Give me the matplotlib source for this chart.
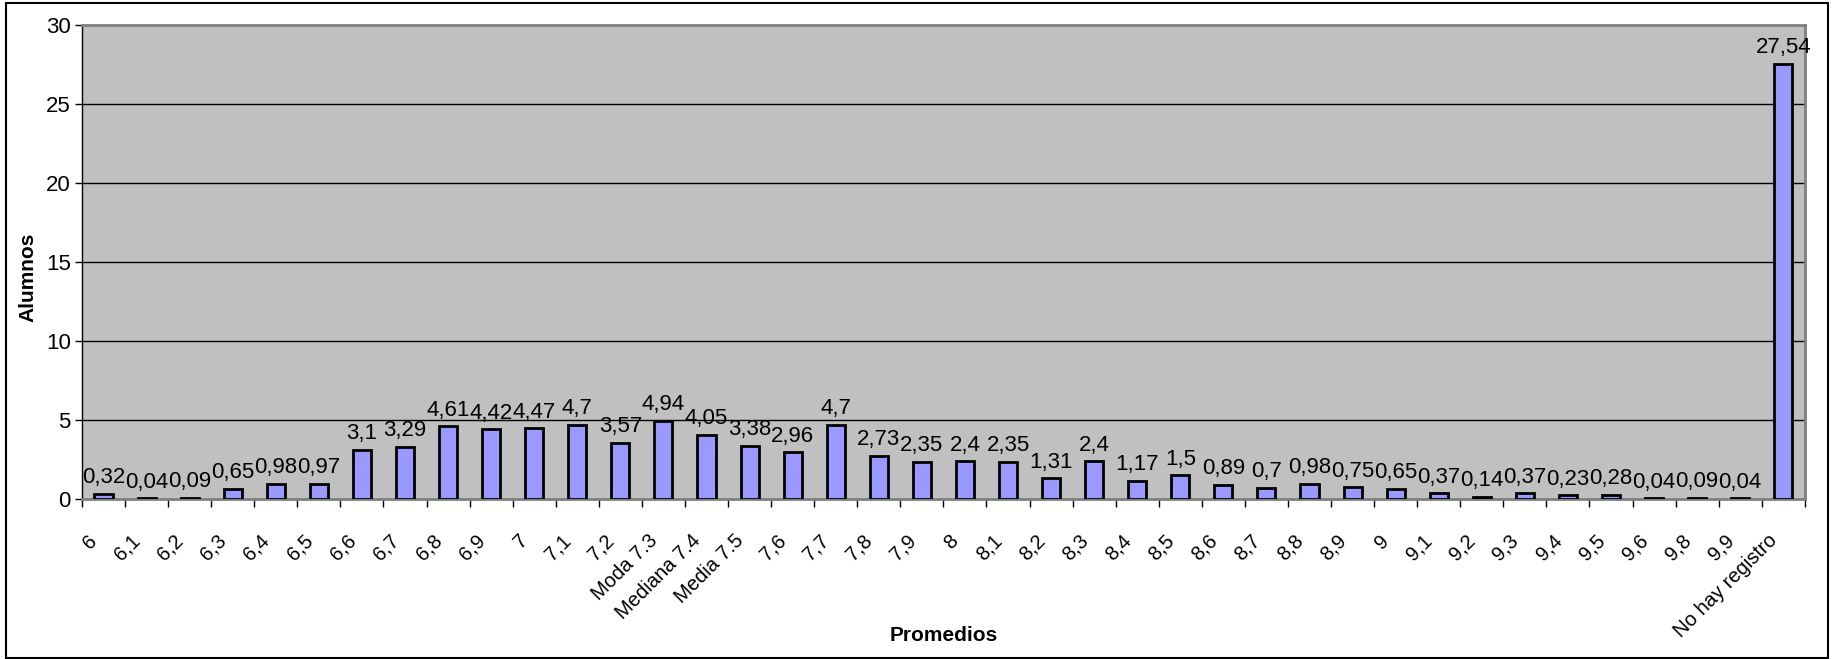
import matplotlib
matplotlib.use('Agg')
import matplotlib.pyplot as plt
import matplotlib.transforms as mtransforms
from matplotlib.patches import Rectangle
import numpy as np

plt.rcParams['font.family'] = ['Liberation Sans', 'DejaVu Sans']

categorias = ['6', '6,1', '6,2', '6,3', '6,4', '6,5', '6,6', '6,7', '6,8', '6,9',
              '7', '7,1', '7,2', 'Moda 7.3', 'Mediana 7.4', 'Media 7.5', '7,6', '7,7', '7,8', '7,9',
              '8', '8,1', '8,2', '8,3', '8,4', '8,5', '8,6', '8,7', '8,8', '8,9',
              '9', '9,1', '9,2', '9,3', '9,4', '9,5', '9,6', '9,8', '9,9', 'No hay registro']
alumnos = [0.32, 0.04, 0.09, 0.65, 0.98, 0.97, 3.1, 3.29, 4.61, 4.42,
           4.47, 4.7, 3.57, 4.94, 4.05, 3.38, 2.96, 4.7, 2.73, 2.35,
           2.4, 2.35, 1.31, 2.4, 1.17, 1.5, 0.89, 0.7, 0.98, 0.75,
           0.65, 0.37, 0.14, 0.37, 0.23, 0.28, 0.04, 0.09, 0.04, 27.54]
y_ticks = [0, 5, 10, 15, 20, 25, 30]

fig = plt.figure(figsize=(18.34, 6.59), dpi=100)
ax = fig.add_axes([0.0447, 0.2428, 0.9394, 0.7192])
ax.set_facecolor('#C0C0C0')

x = np.arange(len(categorias))
ax.bar(x, alumnos, width=0.42, color='#9999FF', edgecolor='black', linewidth=2, zorder=3)

for xi, v in zip(x, alumnos):
    ax.annotate(str(v).replace('.', ','), (xi, v), xytext=(0, 4), textcoords='offset points',
                ha='center', va='bottom', fontsize=16, zorder=4)

ax.set_xlim(-0.5, len(categorias) - 0.5)
ax.set_ylim(0, 30)
ax.set_yticks(y_ticks)
ax.tick_params(axis='y', labelsize=16, direction='out', length=5, width=1, pad=3)
for t in y_ticks[1:-1]:
    ax.axhline(t, color='black', linewidth=1, zorder=1)

ax.set_xticks(x)
ax.set_xticklabels(categorias, rotation=45, ha='right', rotation_mode='anchor', fontsize=14.5)
ax.tick_params(axis='x', which='major', length=0, pad=23)
# shift rotated labels a bit to the left, like the original
shift = mtransforms.ScaledTranslation(-16 / 100, 0, fig.dpi_scale_trans)
for lbl in ax.get_xticklabels():
    lbl.set_transform(lbl.get_transform() + shift)
ax.set_xticks(np.arange(len(categorias) + 1) - 0.5, minor=True)
ax.tick_params(axis='x', which='minor', length=6, width=1, color='black')

for side in ['top', 'right']:
    ax.spines[side].set_color('#808080')
    ax.spines[side].set_linewidth(2)
ax.spines['bottom'].set_color('#808080')
ax.spines['bottom'].set_linewidth(2)
ax.spines['left'].set_color('black')
ax.spines['left'].set_linewidth(1)

ax.set_ylabel('Alumnos', fontsize=15, fontweight='bold')
ax.yaxis.set_label_coords(-0.026, 0.468)
ax.set_xlabel('Promedios', fontsize=15, fontweight='bold')
ax.xaxis.set_label_coords(0.5, -0.268)

fig.patches.append(Rectangle((0.003, 0.002), 0.994, 0.993, transform=fig.transFigure,
                             fill=False, edgecolor='black', linewidth=1.5))

fig.savefig('out.png', dpi=100, facecolor='white')
